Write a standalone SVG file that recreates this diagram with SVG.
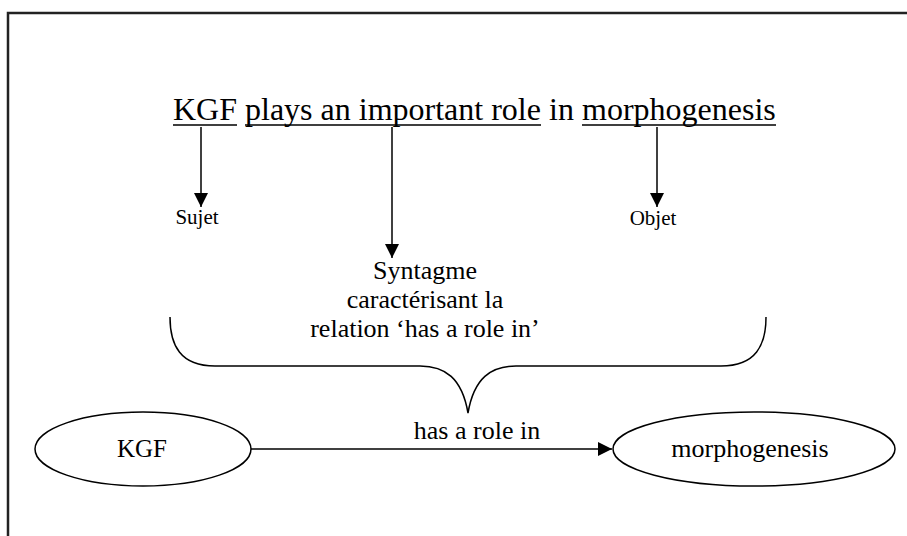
<svg xmlns="http://www.w3.org/2000/svg" width="907" height="536" viewBox="0 0 907 536">
<defs>
<style>
.ln{stroke:#000;stroke-width:1.5;fill:none}
.node{fill:#fff;stroke:#000;stroke-width:1.5}
</style>
<marker id="ah" viewBox="0 0 10 10" refX="10" refY="5" markerWidth="16" markerHeight="14" markerUnits="userSpaceOnUse" orient="auto"><path d="M0,0L10,5L0,10z" fill="#000"/></marker>
</defs>
<rect width="907" height="536" fill="#fff"/>
<path d="M8,536V13H907" fill="none" stroke="#222" stroke-width="2.5"/>
<g id="sentence">
<text x="173" y="120" font-size="32" font-family="Liberation Serif">KGF</text>
<text x="245" y="120" font-size="32" font-family="Liberation Serif">plays an important role</text>
<text x="549" y="120" font-size="32" font-family="Liberation Serif">in</text>
<text x="582" y="120" font-size="32" font-family="Liberation Serif">morphogenesis</text>
<path class="ln" d="M173,125H237M245,125H541M582,125H776"/>
</g>
<g id="connectors">
<path class="ln" d="M201,127V207" marker-end="url(#ah)"/>
<path class="ln" d="M392,127V258" marker-end="url(#ah)"/>
<path class="ln" d="M657,127V207" marker-end="url(#ah)"/>
<path class="ln" d="M251,449H612" marker-end="url(#ah)"/>
<path class="ln" d="M170,317C170,345 180,366 215,366H420C445,366 462,378 468,413C474,378 491,366 516,366H721C756,366 766,345 766,317"/>
</g>
<g id="sujet"><text x="197" y="224" font-size="21" text-anchor="middle" font-family="Liberation Serif">Sujet</text></g>
<g id="objet"><text x="653" y="225" font-size="21" text-anchor="middle" font-family="Liberation Serif">Objet</text></g>
<g id="syntagme">
<text x="425" y="279" font-size="26" text-anchor="middle" font-family="Liberation Serif">Syntagme</text>
<text x="425" y="308" font-size="26" text-anchor="middle" font-family="Liberation Serif">caractérisant la</text>
<text x="425" y="337" font-size="26" text-anchor="middle" font-family="Liberation Serif">relation ‘has a role in’</text>
</g>
<g id="rel"><text x="477" y="439" font-size="26" text-anchor="middle" font-family="Liberation Serif">has a role in</text></g>
<g id="kgf"><ellipse class="node" cx="143" cy="449" rx="108" ry="37"/><text x="142" y="457" font-size="25" text-anchor="middle" font-family="Liberation Serif">KGF</text></g>
<g id="morph"><ellipse class="node" cx="754" cy="449" rx="141" ry="37"/><text x="750" y="457" font-size="26" text-anchor="middle" font-family="Liberation Serif">morphogenesis</text></g>
</svg>
